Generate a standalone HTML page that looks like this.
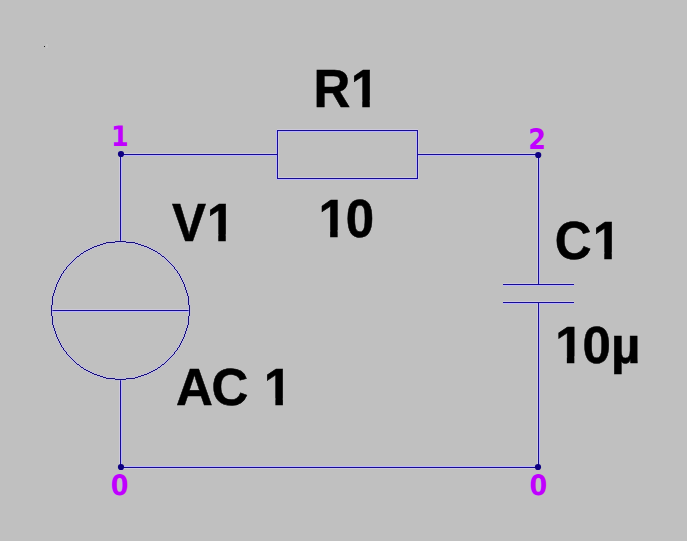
<!DOCTYPE html>
<html lang="en"><head><meta charset="utf-8"><title>RC circuit schematic</title>
<style>
html,body{margin:0;padding:0;background:#c0c0c0;overflow:hidden}
svg{display:block}
text{font-kerning:none}
.k{font-family:"Liberation Sans",Arial,sans-serif;font-weight:bold;font-size:51px;fill:#000;stroke:#000;stroke-width:0.5px}
.m{font-family:"DejaVu Sans Condensed","DejaVu Sans",sans-serif;font-weight:bold;font-size:28.3px;fill:#c000ff;text-rendering:geometricPrecision}
</style></head>
<body>
<svg width="687" height="541" viewBox="0 0 687 541">
<rect width="687" height="541" fill="#c0c0c0"/>
<rect x="44" y="46" width="1" height="1" fill="#202020"/>
<rect x="46" y="44" width="2" height="4" fill="#cacaca" opacity=".6"/>
<!-- wires: pale chroma-bleed companions first, then the dark 1px lines -->
<g shape-rendering="crispEdges">
<rect x="121" y="153" width="157" height="1" fill="#cdc9dc"/>
<rect x="417" y="153" width="122" height="1" fill="#cdc9dc"/>
<rect x="120" y="468" width="419" height="1" fill="#cdc9dc"/>
<rect x="277" y="129" width="141" height="1" fill="#cdc9dc"/>
<rect x="277" y="177" width="141" height="1" fill="#cdc9dc"/>
<rect x="503" y="283" width="71" height="1" fill="#cdc9dc"/>
<rect x="503" y="301" width="71" height="1" fill="#cdc9dc"/>
<rect x="51" y="309" width="139" height="1" fill="#cdc9dc"/>
<rect x="119" y="154" width="1" height="88" fill="#cdc9dc"/>
<rect x="119" y="379" width="1" height="89" fill="#cdc9dc"/>
<rect x="537" y="154" width="1" height="131" fill="#cdc9dc"/>
<rect x="537" y="302" width="1" height="166" fill="#cdc9dc"/>
<rect x="278" y="130" width="1" height="49" fill="#cdc9dc"/>
<rect x="418" y="130" width="1" height="49" fill="#cdc9dc"/>
<rect x="121" y="155" width="157" height="1" fill="#bab4ff"/>
<rect x="417" y="155" width="122" height="1" fill="#bab4ff"/>
<rect x="120" y="466" width="419" height="1" fill="#bab4ff"/>
<rect x="277" y="131" width="141" height="1" fill="#bab4ff"/>
<rect x="277" y="179" width="141" height="1" fill="#bab4ff"/>
<rect x="503" y="285" width="71" height="1" fill="#bab4ff"/>
<rect x="503" y="303" width="71" height="1" fill="#bab4ff"/>
<rect x="51" y="311" width="139" height="1" fill="#bab4ff"/>
<rect x="121" y="154" width="1" height="88" fill="#bab4ff"/>
<rect x="121" y="379" width="1" height="89" fill="#bab4ff"/>
<rect x="539" y="154" width="1" height="131" fill="#bab4ff"/>
<rect x="539" y="302" width="1" height="166" fill="#bab4ff"/>
<rect x="276" y="130" width="1" height="49" fill="#bab4ff"/>
<rect x="416" y="130" width="1" height="49" fill="#bab4ff"/>
<rect x="121" y="154" width="157" height="1" fill="#160c90"/>
<rect x="417" y="154" width="122" height="1" fill="#160c90"/>
<rect x="120" y="467" width="419" height="1" fill="#160c90"/>
<rect x="277" y="130" width="141" height="1" fill="#160c90"/>
<rect x="277" y="178" width="141" height="1" fill="#160c90"/>
<rect x="503" y="284" width="71" height="1" fill="#160c90"/>
<rect x="503" y="302" width="71" height="1" fill="#160c90"/>
<rect x="51" y="310" width="139" height="1" fill="#160c90"/>
<rect x="120" y="154" width="1" height="88" fill="#160c90"/>
<rect x="120" y="379" width="1" height="89" fill="#160c90"/>
<rect x="538" y="154" width="1" height="131" fill="#160c90"/>
<rect x="538" y="302" width="1" height="166" fill="#160c90"/>
<rect x="277" y="130" width="1" height="49" fill="#160c90"/>
<rect x="417" y="130" width="1" height="49" fill="#160c90"/>
</g>
<circle cx="120.5" cy="310.5" r="68.7" fill="none" stroke="#bab4ff" stroke-width="2.7" stroke-opacity="0.45"/>
<path fill="#140c78" shape-rendering="crispEdges" d="M115 241h11v1h-11zM106 242h9v1h-9zM126 242h9v1h-9zM103 243h3v1h-3zM135 243h3v1h-3zM100 244h3v1h-3zM138 244h3v1h-3zM97 245h3v1h-3zM141 245h3v1h-3zM94 246h3v1h-3zM144 246h3v1h-3zM92 247h2v1h-2zM147 247h2v1h-2zM90 248h2v1h-2zM149 248h2v1h-2zM88 249h2v1h-2zM151 249h2v1h-2zM86 250h2v1h-2zM153 250h2v1h-2zM84 251h2v1h-2zM155 251h2v1h-2zM83 252h1v1h-1zM157 252h1v1h-1zM81 253h2v1h-2zM158 253h2v1h-2zM80 254h1v1h-1zM160 254h1v1h-1zM79 255h1v1h-1zM161 255h1v1h-1zM77 256h2v1h-2zM162 256h2v1h-2zM76 257h1v1h-1zM164 257h1v1h-1zM75 258h1v1h-1zM165 258h1v1h-1zM74 259h1v1h-1zM166 259h1v1h-1zM73 260h1v1h-1zM167 260h1v1h-1zM72 261h1v1h-1zM168 261h1v1h-1zM71 262h1v1h-1zM169 262h1v1h-1zM70 263h1v1h-1zM170 263h1v1h-1zM69 264h1v1h-1zM171 264h1v1h-1zM68 265h1v1h-1zM172 265h1v1h-1zM67 266h1v1h-1zM173 266h1v1h-1zM66 267h1v1h-1zM174 267h1v1h-1zM66 268h1v1h-1zM174 268h1v1h-1zM65 269h1v1h-1zM175 269h1v1h-1zM64 270h1v1h-1zM176 270h1v1h-1zM63 271h1v1h-1zM177 271h1v1h-1zM63 272h1v1h-1zM177 272h1v1h-1zM62 273h1v1h-1zM178 273h1v1h-1zM61 274h1v1h-1zM179 274h1v1h-1zM61 275h1v1h-1zM179 275h1v1h-1zM60 276h1v1h-1zM180 276h1v1h-1zM60 277h1v1h-1zM180 277h1v1h-1zM59 278h1v1h-1zM181 278h1v1h-1zM59 279h1v1h-1zM181 279h1v1h-1zM58 280h1v1h-1zM182 280h1v1h-1zM58 281h1v1h-1zM182 281h1v1h-1zM57 282h1v1h-1zM183 282h1v1h-1zM57 283h1v1h-1zM183 283h1v1h-1zM56 284h1v1h-1zM184 284h1v1h-1zM56 285h1v1h-1zM184 285h1v1h-1zM56 286h1v1h-1zM184 286h1v1h-1zM55 287h1v1h-1zM185 287h1v1h-1zM55 288h1v1h-1zM185 288h1v1h-1zM55 289h1v1h-1zM185 289h1v1h-1zM54 290h1v1h-1zM186 290h1v1h-1zM54 291h1v1h-1zM186 291h1v1h-1zM54 292h1v1h-1zM186 292h1v1h-1zM53 293h1v1h-1zM187 293h1v1h-1zM53 294h1v1h-1zM187 294h1v1h-1zM53 295h1v1h-1zM187 295h1v1h-1zM52 296h1v1h-1zM188 296h1v1h-1zM52 297h1v1h-1zM188 297h1v1h-1zM52 298h1v1h-1zM188 298h1v1h-1zM52 299h1v1h-1zM188 299h1v1h-1zM52 300h1v1h-1zM188 300h1v1h-1zM52 301h1v1h-1zM188 301h1v1h-1zM52 302h1v1h-1zM188 302h1v1h-1zM52 303h1v1h-1zM188 303h1v1h-1zM52 304h1v1h-1zM188 304h1v1h-1zM51 305h1v1h-1zM189 305h1v1h-1zM51 306h1v1h-1zM189 306h1v1h-1zM51 307h1v1h-1zM189 307h1v1h-1zM51 308h1v1h-1zM189 308h1v1h-1zM51 309h1v1h-1zM189 309h1v1h-1zM51 310h1v1h-1zM189 310h1v1h-1zM51 311h1v1h-1zM189 311h1v1h-1zM51 312h1v1h-1zM189 312h1v1h-1zM51 313h1v1h-1zM189 313h1v1h-1zM51 314h1v1h-1zM189 314h1v1h-1zM51 315h1v1h-1zM189 315h1v1h-1zM52 316h1v1h-1zM188 316h1v1h-1zM52 317h1v1h-1zM188 317h1v1h-1zM52 318h1v1h-1zM188 318h1v1h-1zM52 319h1v1h-1zM188 319h1v1h-1zM52 320h1v1h-1zM188 320h1v1h-1zM52 321h1v1h-1zM188 321h1v1h-1zM52 322h1v1h-1zM188 322h1v1h-1zM52 323h1v1h-1zM188 323h1v1h-1zM52 324h1v1h-1zM188 324h1v1h-1zM53 325h1v1h-1zM187 325h1v1h-1zM53 326h1v1h-1zM187 326h1v1h-1zM53 327h1v1h-1zM187 327h1v1h-1zM54 328h1v1h-1zM186 328h1v1h-1zM54 329h1v1h-1zM186 329h1v1h-1zM54 330h1v1h-1zM186 330h1v1h-1zM55 331h1v1h-1zM185 331h1v1h-1zM55 332h1v1h-1zM185 332h1v1h-1zM55 333h1v1h-1zM185 333h1v1h-1zM56 334h1v1h-1zM184 334h1v1h-1zM56 335h1v1h-1zM184 335h1v1h-1zM56 336h1v1h-1zM184 336h1v1h-1zM57 337h1v1h-1zM183 337h1v1h-1zM57 338h1v1h-1zM183 338h1v1h-1zM58 339h1v1h-1zM182 339h1v1h-1zM58 340h1v1h-1zM182 340h1v1h-1zM59 341h1v1h-1zM181 341h1v1h-1zM59 342h1v1h-1zM181 342h1v1h-1zM60 343h1v1h-1zM180 343h1v1h-1zM60 344h1v1h-1zM180 344h1v1h-1zM61 345h1v1h-1zM179 345h1v1h-1zM61 346h1v1h-1zM179 346h1v1h-1zM62 347h1v1h-1zM178 347h1v1h-1zM63 348h1v1h-1zM177 348h1v1h-1zM63 349h1v1h-1zM177 349h1v1h-1zM64 350h1v1h-1zM176 350h1v1h-1zM65 351h1v1h-1zM175 351h1v1h-1zM66 352h1v1h-1zM174 352h1v1h-1zM66 353h1v1h-1zM174 353h1v1h-1zM67 354h1v1h-1zM173 354h1v1h-1zM68 355h1v1h-1zM172 355h1v1h-1zM69 356h1v1h-1zM171 356h1v1h-1zM70 357h1v1h-1zM170 357h1v1h-1zM71 358h1v1h-1zM169 358h1v1h-1zM72 359h1v1h-1zM168 359h1v1h-1zM73 360h1v1h-1zM167 360h1v1h-1zM74 361h1v1h-1zM166 361h1v1h-1zM75 362h1v1h-1zM165 362h1v1h-1zM76 363h1v1h-1zM164 363h1v1h-1zM77 364h2v1h-2zM162 364h2v1h-2zM79 365h1v1h-1zM161 365h1v1h-1zM80 366h1v1h-1zM160 366h1v1h-1zM81 367h2v1h-2zM158 367h2v1h-2zM83 368h1v1h-1zM157 368h1v1h-1zM84 369h2v1h-2zM155 369h2v1h-2zM86 370h2v1h-2zM153 370h2v1h-2zM88 371h2v1h-2zM151 371h2v1h-2zM90 372h2v1h-2zM149 372h2v1h-2zM92 373h2v1h-2zM147 373h2v1h-2zM94 374h3v1h-3zM144 374h3v1h-3zM97 375h3v1h-3zM141 375h3v1h-3zM100 376h3v1h-3zM138 376h3v1h-3zM103 377h3v1h-3zM135 377h3v1h-3zM106 378h9v1h-9zM126 378h9v1h-9zM115 379h11v1h-11z"/>
<circle cx="121" cy="154" r="3.1" fill="#0e0080"/>
<circle cx="538.2" cy="155" r="3.1" fill="#0e0080"/>
<circle cx="121" cy="467" r="3.1" fill="#0e0080"/>
<circle cx="538" cy="467" r="3.1" fill="#0e0080"/>
<!-- component labels -->
<text class="k" x="0 37.33" y="0" transform="translate(313.4 107) scale(1 1.04)">R1</text>
<text class="k" x="1 28.06" y="0" transform="translate(317.6 237) scale(1 1.04)">10</text>
<text class="k" x="0 34.72" y="0" transform="translate(172 241) scale(1 1.04)">V1</text>
<text class="k" x="0.5 36.03 73.66 88.33" y="0" transform="translate(175.5 405) scale(1 1.03)">AC 1</text>
<text class="k" x="-0.2 37.73" y="0" transform="translate(555 259) scale(1 1.04)">C1</text>
<text class="k" x="0.9 28.06 56.53" y="0" transform="translate(554.4 363) scale(1 1.03)">10µ</text>
<!-- masks trimming the foot serif of the digit one (Arial's has none) -->
<g fill="#c0c0c0">
<rect x="352.44" y="100.39" width="9.84" height="8.11"/>
<rect x="369.78" y="100.39" width="9.39" height="8.11"/>
<rect x="320.31" y="230.39" width="9.84" height="8.11"/>
<rect x="337.65" y="230.39" width="9.39" height="8.11"/>
<rect x="208.43" y="234.39" width="9.84" height="8.11"/>
<rect x="225.77" y="234.39" width="9.39" height="8.11"/>
<rect x="265.54" y="398.44" width="9.84" height="8.06"/>
<rect x="282.88" y="398.44" width="9.39" height="8.06"/>
<rect x="594.44" y="252.39" width="9.84" height="8.11"/>
<rect x="611.78" y="252.39" width="9.39" height="8.11"/>
<rect x="557.01" y="356.44" width="9.84" height="8.06"/>
<rect x="574.35" y="356.44" width="9.39" height="8.06"/>
</g>
<!-- node labels -->
<text class="m" x="110.9" y="146.2">1</text>
<text class="m" x="528.15" y="149">2</text>
<text class="m" x="110.8" y="495.3">0</text>
<text class="m" x="529.45" y="495.3">0</text>
</svg>
</body></html>
